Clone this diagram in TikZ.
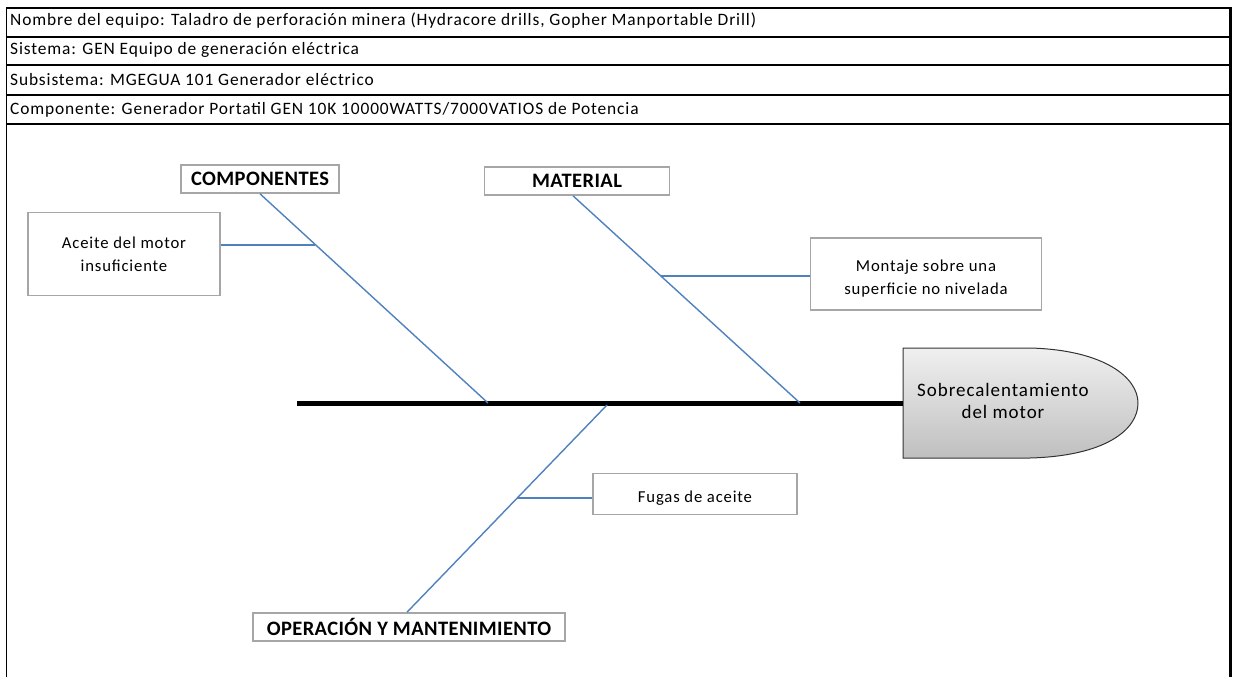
\documentclass[tikz,border=0pt]{standalone}
\usepackage{fontspec}
\setmainfont{Carlito}
\newfontfamily\xfont[LetterSpace=5]{Carlito}
\newfontfamily\xbold[LetterSpace=2,BoldFont={* Bold}]{Carlito}
\usepackage{tikz}
\usetikzlibrary{calc}
\definecolor{bone}{RGB}{79,129,189}
\definecolor{boxline}{RGB}{166,166,166}
\newcommand{\low}[2]{\raisebox{0pt}[\dimexpr\height+#1pt\relax][\depth]{#2}}

\begin{document}
\begin{tikzpicture}[x=1pt,y=-1pt,
  hdr/.style={anchor=west,inner sep=0pt,font=\xfont\fontsize{17.4}{19}\selectfont},
  catbox/.style={draw=boxline,line width=1.6pt,fill=white,minimum height=28pt,
                 font=\xbold\fontsize{20.5}{22}\bfseries\selectfont,inner sep=0pt},
  causebox/.style={draw=boxline,line width=1.3pt,fill=white,align=center,
                   font=\xfont\fontsize{16.7}{23}\selectfont,inner sep=0pt},
  bone/.style={draw=bone,line width=1.4pt},
  twig/.style={draw=bone,line width=2pt}]
\useasboundingbox (0,0) rectangle (1236,677);
% header table
\draw[line width=1pt] (6.5,8) -- (6.5,677);
\draw[line width=3pt] (1230,7) -- (1230,677);
\draw[line width=1.6pt] (6,8) -- (1230,8);
\draw[line width=1.6pt] (6,37) -- (1230,37);
\draw[line width=1.6pt] (6,65) -- (1230,65);
\draw[line width=1.6pt] (6,95) -- (1230,95);
\draw[line width=1.6pt] (6,124) -- (1230,124);
\node[hdr] (equipo) at (10,21)
  {Nombre del equipo: Taladro de perforación minera (Hydracore drills, Gopher Manportable Drill)};
\node[hdr] (sistema) at (10,50) {Sistema: GEN Equipo de generación eléctrica};
\node[hdr] (subsis) at (10,80) {Subsistema: MGEGUA 101 Generador eléctrico};
\node[hdr] (compo) at (10,110)
  {Componente: Generador Portatil GEN 10K 10000WATTS/7000VATIOS de Potencia};
% head of the fish
\shade[top color=gray!12,bottom color=gray!50,draw=black!80,line width=1pt]
  (903,348) -- (1030,348) .. controls (1105,350) and (1138,378) .. (1138,403)
  .. controls (1138,430) and (1105,456) .. (1030,458) -- (903,458) -- cycle;
\node[align=center,font=\xfont\fontsize{19}{22}\selectfont] (head) at (1003,401)
  {Sobrecalentamiento\\del motor};
\coordinate (tail) at (297,403);
\coordinate (hw) at (903,403);
\draw[line width=5pt] (tail) -- (hw);
% categories
\node[catbox,minimum width=158pt] (cat1) at (260,179) {COMPONENTES};
\node[catbox,minimum width=185pt] (cat2) at (577,181) {MATERIAL};
\node[catbox,minimum width=312pt] (cat3) at (409,627) {OPERACIÓN Y MANTENIMIENTO};
\coordinate (s1) at (488,403);
\coordinate (s2) at (800,403);
\coordinate (s3) at (607,405);
\draw[bone] (cat1.south) -- (s1);
\draw[bone] ([xshift=-4pt]cat2.south) -- (s2);
\draw[bone] ([xshift=-2pt]cat3.north) -- (s3);
% causes
\node[causebox,minimum width=192pt,minimum height=83pt] (c1) at (124,254)
  {Aceite del motor\\insuficiente};
\node[causebox,minimum width=231pt,minimum height=72pt] (c2) at (926,274)
  {\low{10}{Montaje sobre una}\\superficie no nivelada};
\node[causebox,minimum width=204pt,minimum height=41pt] (c3) at (695,494)
  {\low{9}{Fugas de aceite}};
\coordinate (j1) at ($(cat1.south)!0.243!(s1)$);
\coordinate (j2) at ($([xshift=-4pt]cat2.south)!0.386!(s2)$);
\coordinate (j3) at ($(s3)!0.45!([xshift=-2pt]cat3.north)$);
\draw[twig] (j1) -- (j1 -| c1.east);
\draw[twig] (j2) -- (j2 -| c2.west);
\draw[twig] (j3) -- (j3 -| c3.west);
\end{tikzpicture}
\end{document}
